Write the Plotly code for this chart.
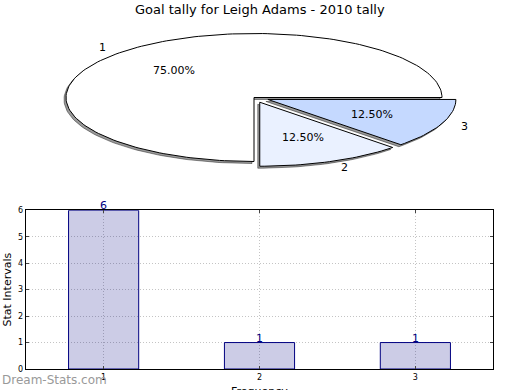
import numpy as np
import plotly.graph_objects as go

# ---- data ----
title_text = "Goal tally for Leigh Adams - 2010 tally"
pie_labels = ["1", "2", "3"]
pie_values = [6, 1, 1]
bar_categories = [1, 2, 3]
bar_values = [6, 1, 1]
y_ticks = [0, 1, 2, 3, 4, 5, 6]
x_label = "Frequency"
y_label = "Stat Intervals"
watermark = "Dream-Stats.com"

# ---- style ----
W, H = 520, 390
FONT = "DejaVu Sans"
slice_colors = ["#FFFFFF", "#EAF1FF", "#C5D9FF"]
explode = [0.0, 0.08, 0.08]
# pie ellipse placement (pixels)
CX, CY, RX, RY = 254, 97.5, 188, 64
PR = 1.35  # half-range of pie axes in unit radii

fig = go.Figure()

# ---- pie drawn as wedges on an elliptic axis ----
total = float(sum(pie_values))
fracs = [v / total for v in pie_values]
start = 0.0
wedges = []
for i, f in enumerate(fracs):
    t1, t2 = start, start + f * 360.0
    mid = np.deg2rad((t1 + t2) / 2)
    ox, oy = explode[i] * np.cos(mid), explode[i] * np.sin(mid)
    n = max(int(abs(t2 - t1) / 1.5), 4)
    th = np.deg2rad(np.linspace(t1, t2, n))
    xs = np.concatenate([[ox], ox + np.cos(th), [ox]])
    ys = np.concatenate([[oy], oy + np.sin(th), [oy]])
    wedges.append((xs, ys, mid, ox, oy))
    start = t2

sdx, sdy = -2.0 / RX, -2.0 / RY
for xs, ys, mid, ox, oy in wedges:
    fig.add_trace(go.Scatter(x=xs + sdx, y=ys + sdy, mode="lines", fill="toself",
                             fillcolor="rgba(0,0,0,0.4)",
                             line=dict(color="rgba(0,0,0,0.4)", width=1),
                             hoverinfo="skip", showlegend=False,
                             xaxis="x", yaxis="y"))
for i, (xs, ys, mid, ox, oy) in enumerate(wedges):
    fig.add_trace(go.Scatter(x=xs, y=ys, mode="lines", fill="toself",
                             fillcolor=slice_colors[i],
                             line=dict(color="black", width=1),
                             hoverinfo="skip", showlegend=False,
                             xaxis="x", yaxis="y"))

annotations = []
for i, (xs, ys, mid, ox, oy) in enumerate(wedges):
    lx, ly = ox + 1.1 * np.cos(mid), oy + 1.1 * np.sin(mid)
    annotations.append(dict(x=lx, y=ly, xref="x", yref="y", text=pie_labels[i],
                            showarrow=False, xanchor="right" if lx < 0 else "left",
                            yanchor="middle", font=dict(size=11, color="black", family=FONT)))
    px, py = ox + 0.6 * np.cos(mid), oy + 0.6 * np.sin(mid)
    annotations.append(dict(x=px, y=py, xref="x", yref="y",
                            text="%.2f%%" % (fracs[i] * 100),
                            showarrow=False, xanchor="center", yanchor="middle",
                            font=dict(size=11, color="black", family=FONT)))

# ---- bar chart ----
fig.add_trace(go.Bar(x=bar_categories, y=bar_values, width=0.45,
                     marker=dict(color="rgba(0,0,128,0.2)",
                                 line=dict(color="#000080", width=1)),
                     hoverinfo="skip", showlegend=False,
                     xaxis="x2", yaxis="y2"))
for c, v in zip(bar_categories, bar_values):
    annotations.append(dict(x=c, y=v, xref="x2", yref="y2", text=str(v),
                            showarrow=False, xanchor="center", yanchor="bottom",
                            yshift=-4, font=dict(size=11, color="#000080", family=FONT)))

annotations.append(dict(x=0, y=1 - 380 / H, xref="paper", yref="paper", text=watermark,
                        showarrow=False, xanchor="left", yanchor="middle",
                        font=dict(size=12, color="#999999", family=FONT)))
annotations.append(dict(x=0.5, y=1 - 9 / H, xref="paper", yref="paper", text=title_text,
                        showarrow=False, xanchor="center", yanchor="middle",
                        font=dict(size=13, color="black", family=FONT)))
# x-axis title (sits partly below the bottom edge, as in the original)
annotations.append(dict(x=(25.7 + 493.3) / 2 / W, y=1 - 383 / H, xref="paper", yref="paper",
                        text=x_label, showarrow=False, xanchor="center", yanchor="top",
                        font=dict(size=11, color="black", family=FONT)))

# pie axes domains
x0p, x1p = CX - PR * RX, CX + PR * RX
y0p, y1p = CY - PR * RY, CY + PR * RY
ax_hidden = dict(showgrid=False, zeroline=False, showticklabels=False,
                 showline=False, ticks="", fixedrange=True, automargin=False)

grid = dict(showgrid=True, gridcolor="#c4c4c4", griddash="1px,2px", gridwidth=1)
fig.update_layout(
    width=W, height=H, margin=dict(l=0, r=0, t=0, b=0, pad=0, autoexpand=False),
    paper_bgcolor="white", plot_bgcolor="rgba(0,0,0,0)",
    font=dict(family=FONT, color="black"),
    xaxis=dict(domain=[x0p / W, x1p / W], range=[-PR, PR], **ax_hidden),
    yaxis=dict(domain=[1 - y1p / H, 1 - y0p / H], range=[-PR, PR], **ax_hidden),
    xaxis2=dict(domain=[25.7 / W, 493.3 / W], range=[0.5, 3.5], anchor="y2",
                tickvals=bar_categories, ticktext=[str(c) for c in bar_categories],
                ticks="inside", ticklen=3, mirror="ticks", showline=True,
                linecolor="black", linewidth=1, zeroline=False, automargin=False,
                tickfont=dict(size=8, family=FONT),
                **grid),
    yaxis2=dict(domain=[1 - 369 / H, 1 - 210.3 / H], range=[0, 6], anchor="x2",
                tickvals=y_ticks, ticks="inside", ticklen=3, mirror="ticks",
                showline=True, linecolor="black", linewidth=1, zeroline=False,
                automargin=False,
                tickfont=dict(size=8, family=FONT),
                title=dict(text=y_label, font=dict(size=11, family=FONT), standoff=4),
                **grid),
    annotations=annotations,
)

fig.write_html(
    "out.html",
    config={"displayModeBar": False, "responsive": False},
    post_script=(
        "document.documentElement.style.margin='0';"
        "document.documentElement.style.overflow='hidden';"
        "document.body.style.margin='0';"
        "document.body.style.overflow='hidden';"
        "document.body.style.height='390px';"
    ),
)
